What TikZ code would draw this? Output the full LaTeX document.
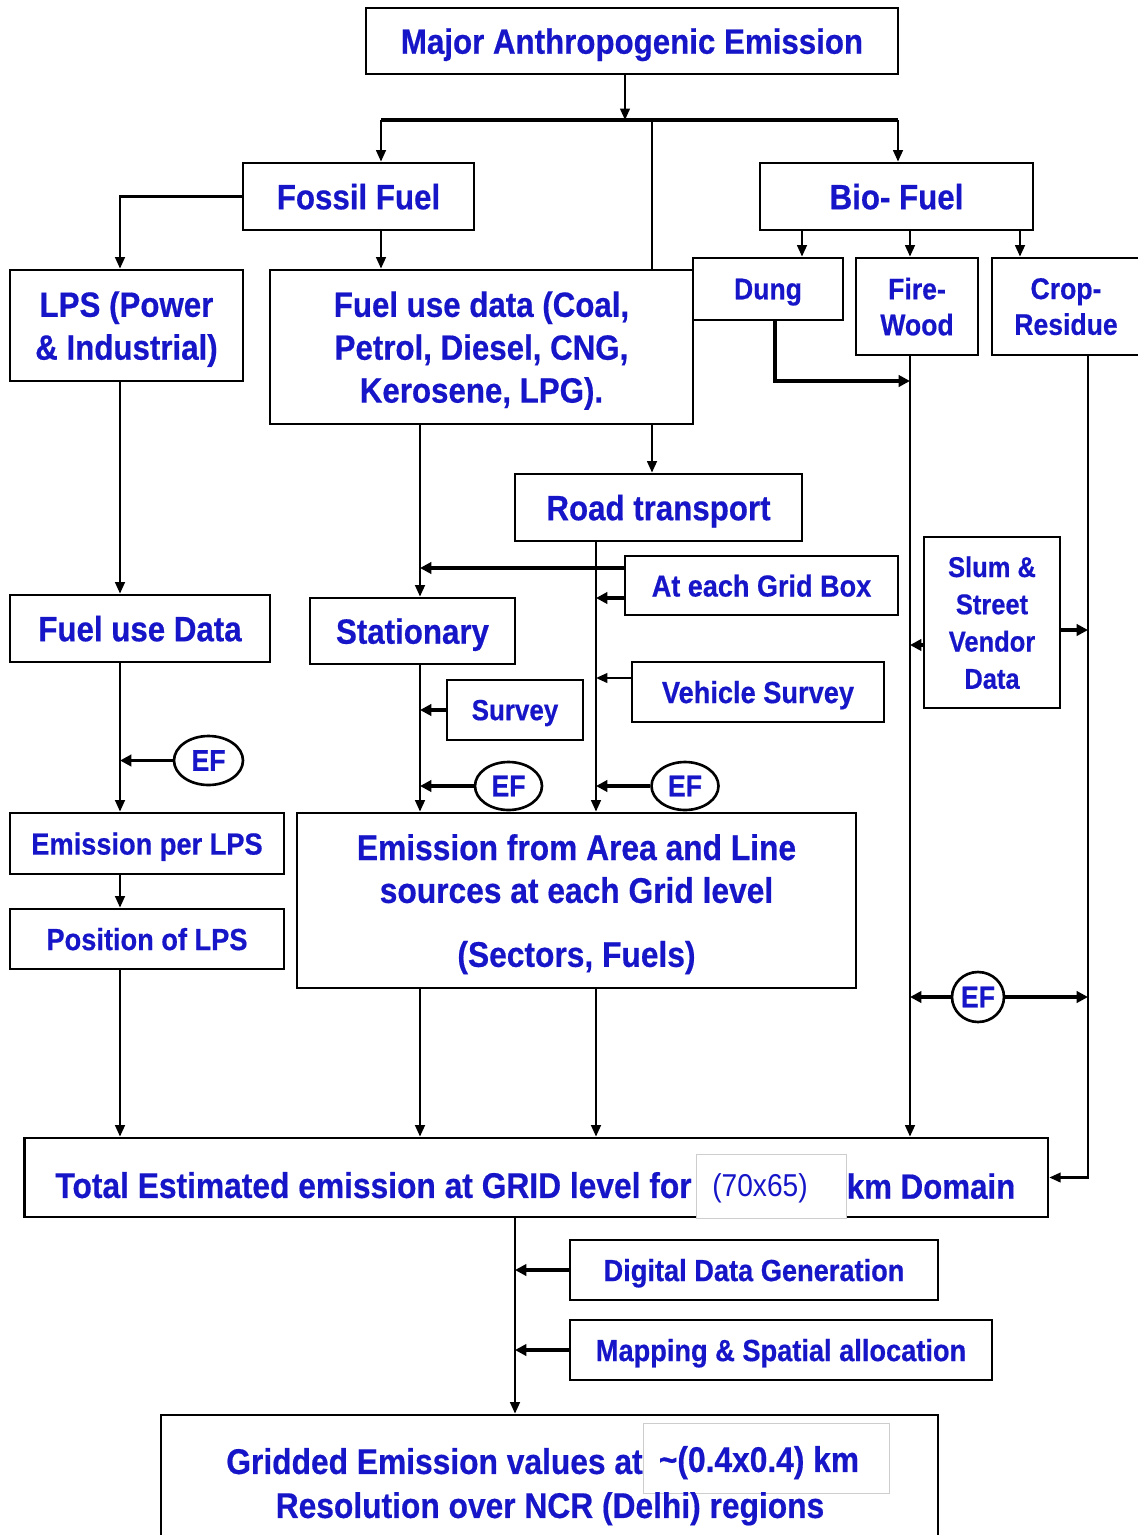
\documentclass[tikz,border=0pt]{standalone}
\usepackage{fontspec}
\setmainfont{Liberation Sans}[FakeStretch=0.89, BoldFeatures={FakeBold=0.5}]
\usepackage{tikz}
\usetikzlibrary{shapes.geometric, arrows.meta, positioning, calc}
\definecolor{ink}{RGB}{22,22,200}
\definecolor{faintline}{RGB}{205,205,205}
\tikzstyle{arrow} = [line width=1.2pt,->,>={Triangle[length=6.5pt,width=5.5pt]}]
\tikzstyle{sidearrow} = [line width=1.8pt,->,>={Triangle[length=6.5pt,width=6.5pt]}]
\tikzstyle{link} = [line width=1.2pt]
\newcommand{\sz}[2]{\fontsize{#1}{#2}\selectfont}

\begin{document}
\begin{tikzpicture}[
    x=0.02cm, y=-0.02cm,
    block/.style={rectangle, draw, line width=1.6pt, fill=white, text=ink, align=center, inner sep=0pt, text depth=0pt},
    efcircle/.style={ellipse, draw, line width=1.5pt, fill=white, text=ink, font=\bfseries\sz{17}{20}, inner sep=0pt, text depth=0pt},
    faintbox/.style={rectangle, draw=faintline, line width=0.5pt, fill=white, inner sep=0pt},
    big/.style={font=\bfseries\sz{20}{24.4}},
    wide/.style={font=\bfseries\sz{20.3}{24.4}},
    mid/.style={font=\bfseries\sz{17.4}{22}},
    plain/.style={text=ink, inner sep=0pt, text depth=0pt}
  ]
    \path[use as bounding box, fill=white] (0,0) rectangle (1137,1535);

    % columns and rows for the connectors
    \coordinate (colA) at (120,0);
    \coordinate (colB) at (420,0);
    \coordinate (colC) at (596,0);
    \coordinate (colD) at (910,0);
    \coordinate (colE) at (1088,0);
    \coordinate (colF) at (515,0);
    \coordinate (bioA) at (802,0);
    \coordinate (bioC) at (1020,0);
    \coordinate (busL) at (381,120);
    \coordinate (busC) at (625,120);
    \coordinate (busT) at (652,120);
    \coordinate (busR) at (898,120);
    \coordinate (dungturn) at (775,381);
    \coordinate (rowG1) at (0,568);
    \coordinate (rowG2) at (0,598);
    \coordinate (rowV) at (0,678);
    \coordinate (rowSL) at (0,645);
    \coordinate (rowSR) at (0,630);

    % Top level
    \node[block, big, minimum width=10.64cm, minimum height=1.32cm] (major) at (632,41) {Major Anthropogenic Emission};
    \node[block, big, minimum width=4.62cm, minimum height=1.34cm] (fossil) at (358.5,196.5) {Fossil Fuel};
    \node[block, big, minimum width=5.46cm, minimum height=1.34cm] (bio) at (896.5,196.5) {Bio- Fuel};

    % Fossil branch
    \node[block, big, minimum width=4.66cm, minimum height=2.22cm] (lps) at (126.5,325.5) {LPS (Power\\\& Industrial)};
    \node[block, big, minimum width=8.46cm, minimum height=3.08cm] (fueldata) at (481.5,347) {Fuel use data (Coal,\\Petrol, Diesel, CNG,\\Kerosene, LPG).};
    \node[block, big, minimum width=5.74cm, minimum height=1.34cm] (road) at (658.5,507.5) {Road transport};
    \node[block, font=\bfseries\sz{17.3}{20}, minimum width=5.46cm, minimum height=1.18cm] (gridbox) at (761.5,585.5) {At each Grid Box};
    \node[block, big, minimum width=5.2cm, minimum height=1.34cm] (fuellps) at (140,628.5) {Fuel use Data};
    \node[block, big, minimum width=4.1cm, minimum height=1.32cm] (stationary) at (412.5,631) {Stationary};
    \node[block, mid, minimum width=5.04cm, minimum height=1.2cm] (vehicle) at (758,692) {Vehicle Survey};
    \node[block, font=\bfseries\sz{16.6}{20}, minimum width=2.72cm, minimum height=1.2cm] (survey) at (515,710) {Survey};
    \node[efcircle, minimum width=1.38cm, minimum height=0.98cm] (ef1) at (208.5,760.5) {EF};
    \node[efcircle, minimum width=1.34cm, minimum height=0.96cm] (ef2) at (508.5,786) {EF};
    \node[efcircle, minimum width=1.34cm, minimum height=0.96cm] (ef3) at (685,786) {EF};
    \node[block, mid, minimum width=5.48cm, minimum height=1.22cm] (emislps) at (147,843.5) {Emission per LPS};
    \node[block, mid, minimum width=5.48cm, minimum height=1.2cm] (poslps) at (147,939) {Position of LPS};
    \node[block, wide, minimum width=11.18cm, minimum height=3.5cm] (area) at (576.5,900.5) {Emission from Area and Line\\sources at each Grid level\\[12pt](Sectors, Fuels)};

    % Bio branch
    \node[block, font=\bfseries\sz{17}{20.4}, minimum width=3cm, minimum height=1.24cm] (dung) at (768,289) {Dung};
    \node[block, font=\bfseries\sz{17}{20.4}, minimum width=2.44cm, minimum height=1.94cm] (firewood) at (917,306.5) {Fire-\\Wood};
    \node[block, font=\bfseries\sz{17}{20.4}, minimum width=2.96cm, minimum height=1.94cm] (crop) at (1066,306.5) {Crop-\\Residue};
    \node[block, font=\bfseries\sz{16.3}{21.2}, minimum width=2.72cm, minimum height=3.42cm] (slum) at (992,622.5) {Slum \&\\Street\\Vendor\\Data};
    \node[efcircle, minimum width=1.04cm, minimum height=1.0cm] (ef4) at (978,997) {EF};

    % Totals
    \node[block, minimum width=20.48cm, minimum height=1.58cm] (total) at (536,1177.5) {};
    \node[plain, wide, anchor=east] (totaltxt) at (692,1185) {Total Estimated emission at GRID level for};
    \node[faintbox, minimum width=3cm, minimum height=1.28cm] (domain) at (771,1186) {};
    \node[plain, font=\sz{18}{20}] (domaintxt) at (760,1185) {(70x65)};
    \node[plain, big, right=0pt of domain] (kmtxt) {km Domain};
    \node[block, mid, minimum width=7.36cm, minimum height=1.2cm] (digital) at (754,1270) {Digital Data Generation};
    \node[block, mid, minimum width=8.44cm, minimum height=1.2cm] (mapping) at (781,1350) {Mapping \& Spatial allocation};
    \node[block, minimum width=15.54cm, minimum height=2.6cm] (gridded) at (549.5,1480) {};
    \node[plain, wide, anchor=east] (gridtxt) at (643,1461) {Gridded Emission values at};
    \node[faintbox, minimum width=4.92cm, minimum height=1.4cm] (resol) at (766,1458) {};
    \node[plain, wide] (resoltxt) at (759,1459) {\textasciitilde(0.4x0.4) km};
    \node[plain, wide] (regiontxt) at (550,1505) {Resolution over NCR (Delhi) regions};

    % Connectors
    \draw[arrow] (major.south -| busC) -- (busC);
    \draw[link, line width=2.2pt] (busL) -- (busR);
    \draw[arrow] (busL) -- (busL |- fossil.north);
    \draw[arrow] (busR) -- (busR |- bio.north);
    \draw[link] (busT) -- (busT |- fueldata.north);
    \draw[arrow] (fossil.west) -| (colA |- lps.north);
    \draw[arrow] (busL |- fossil.south) -- (busL |- fueldata.north);
    \draw[arrow] (busT |- fueldata.south) -- (busT |- road.north);
    \draw[arrow] (bioA |- bio.south) -- (bioA |- dung.north);
    \draw[arrow] (colD |- bio.south) -- (colD |- firewood.north);
    \draw[arrow] (bioC |- bio.south) -- (bioC |- crop.north);
    \draw[sidearrow] (dungturn |- dung.south) |- (colD |- dungturn);
    \draw[arrow] (colD |- firewood.south) -- (colD |- total.north);
    \draw[arrow] (colE |- crop.south) |- (total.east);
    \draw[sidearrow] (slum.west |- rowSL) -- (colD |- rowSL);
    \draw[sidearrow] (slum.east |- rowSR) -- (colE |- rowSR);
    \draw[sidearrow] (ef4.west) -- (colD |- ef4.west);
    \draw[sidearrow] (ef4.east) -- (colE |- ef4.east);
    \draw[arrow] (colA |- lps.south) -- (colA |- fuellps.north);
    \draw[arrow] (colA |- fuellps.south) -- (colA |- emislps.north);
    \draw[sidearrow] (ef1.west) -- (colA |- ef1.west);
    \draw[arrow] (colA |- emislps.south) -- (colA |- poslps.north);
    \draw[arrow] (colA |- poslps.south) -- (colA |- total.north);
    \draw[arrow] (colB |- fueldata.south) -- (colB |- stationary.north);
    \draw[sidearrow] (gridbox.west |- rowG1) -- (colB |- rowG1);
    \draw[sidearrow] (gridbox.west |- rowG2) -- (colC |- rowG2);
    \draw[arrow] (colC |- road.south) -- (colC |- area.north);
    \draw[arrow] (vehicle.west |- rowV) -- (colC |- rowV);
    \draw[sidearrow] (survey.west) -- (colB |- survey.west);
    \draw[arrow] (colB |- stationary.south) -- (colB |- area.north);
    \draw[sidearrow] (ef2.west) -- (colB |- ef2.west);
    \draw[sidearrow] (ef3.west) -- (colC |- ef3.west);
    \draw[arrow] (colB |- area.south) -- (colB |- total.north);
    \draw[arrow] (colC |- area.south) -- (colC |- total.north);
    \draw[arrow] (colF |- total.south) -- (colF |- gridded.north);
    \draw[sidearrow] (digital.west) -- (colF |- digital.west);
    \draw[sidearrow] (mapping.west) -- (colF |- mapping.west);
\end{tikzpicture}
\end{document}
